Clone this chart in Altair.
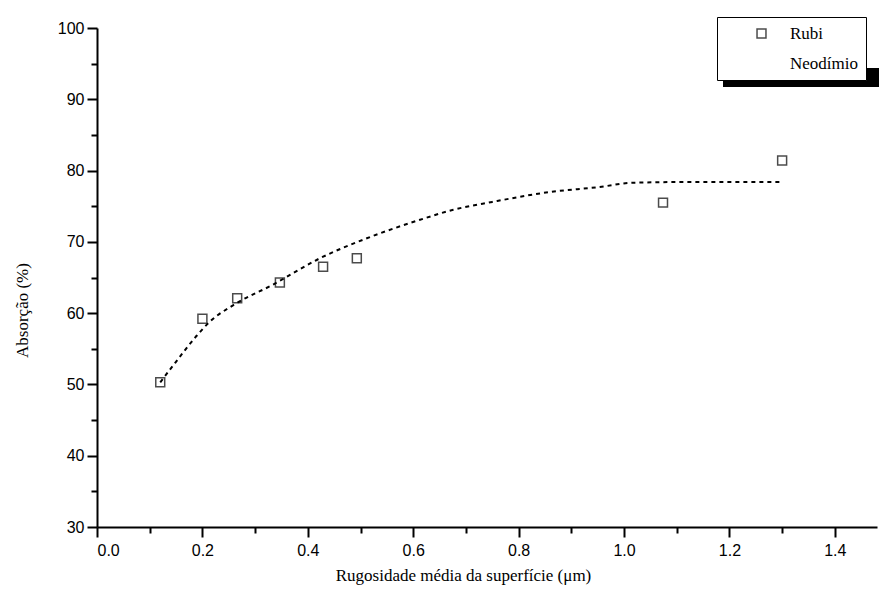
import altair as alt
import pandas as pd

# Rubi measurements (squares)
rubi_x = [0.12, 0.20, 0.266, 0.347, 0.429, 0.493, 1.074, 1.30]
rubi_y = [50.3, 59.2, 62.1, 64.3, 66.5, 67.7, 75.5, 81.4]

# fitted curve
fit_x = [0.12, 0.148, 0.19, 0.214, 0.258, 0.334, 0.423, 0.512, 0.613, 0.676,
         0.75, 0.86, 0.954, 1.017, 1.125, 1.21, 1.30]
fit_y = [50.3, 53.0, 56.9, 58.8, 61.1, 64.0, 67.7, 70.5, 73.1, 74.5,
         75.6, 77.0, 77.7, 78.3, 78.4, 78.4, 78.4]

series = ["Rubi", "Neodímio"]
x_ticks = [0.0, 0.1, 0.2, 0.3, 0.4, 0.5, 0.6, 0.7, 0.8, 0.9, 1.0, 1.1, 1.2, 1.3, 1.4]
y_ticks = [30, 35, 40, 45, 50, 55, 60, 65, 70, 75, 80, 85, 90, 95, 100]

df_r = pd.DataFrame({"x": rubi_x, "y": rubi_y, "serie": ["Rubi"] * len(rubi_x)})
df_f = pd.DataFrame({"x": fit_x, "y": fit_y})

xscale = alt.Scale(domain=[0, 1.48], nice=False, zero=False)
yscale = alt.Scale(domain=[30, 100], nice=False, zero=False)

TICKF = "Liberation Sans"
TITLEF = "Liberation Serif"

x_major_test = "round(datum.value*10) % 2 == 0"
y_major_test = "round(datum.value) % 10 == 0"

x_axis = alt.Axis(values=x_ticks, title="Rugosidade média da superfície (μm)",
                  labelExpr="round(datum.value*10) % 2 == 0 ? format(datum.value, '.1f') : ''",
                  titleFont=TITLEF, titleFontSize=17, titleFontWeight="normal",
                  titleColor="black", titleX=366, titleY=48, titleBaseline="middle",
                  labelFont=TICKF, labelFontSize=16, labelColor="black", labelPadding=5,
                  tickSize={"condition": {"test": x_major_test, "value": 10}, "value": 6},
                  tickWidth=2, tickColor="black", domainColor="black",
                  domainWidth=2, grid=False, orient="bottom", labelOverlap=False)
y_axis = alt.Axis(values=y_ticks, title="Absorção (%)",
                  labelExpr="round(datum.value) % 10 == 0 ? format(datum.value, 'd') : ''",
                  titleFont=TITLEF, titleFontSize=17, titleFontWeight="normal",
                  titleColor="black", titleAngle=270, titleX=-75, titleY=282,
                  titleAlign="center", titleBaseline="middle",
                  labelFont=TICKF, labelFontSize=16, labelColor="black", labelPadding=3,
                  tickSize={"condition": {"test": y_major_test, "value": 10}, "value": 6},
                  tickWidth=2, tickColor="black", domainColor="black",
                  domainWidth=2, grid=False, orient="left", labelOverlap=False)

legend = alt.Legend(title=None, orient="none", legendX=620, legendY=-11,
                    strokeColor="black", fillColor="white", padding=8,
                    labelFont=TITLEF, labelFontSize=17, labelColor="black",
                    symbolSize=80, symbolStrokeWidth=1.5, symbolOffset=28,
                    labelOffset=20, rowPadding=12)

shadow = alt.Chart(pd.DataFrame({"a": [0]})).mark_rect(color="black").encode(
    x=alt.value(626), x2=alt.value(790), y=alt.value(40), y2=alt.value(59)
)

line = alt.Chart(df_f).mark_line(color="black", strokeWidth=2, strokeDash=[4, 4],
                                 interpolate="monotone").encode(
    x=alt.X("x:Q", scale=xscale, axis=x_axis),
    y=alt.Y("y:Q", scale=yscale, axis=y_axis),
)

points = alt.Chart(df_r).mark_point(filled=False, size=80, strokeWidth=1.5).encode(
    x=alt.X("x:Q", scale=xscale, axis=x_axis),
    y=alt.Y("y:Q", scale=yscale, axis=y_axis),
    shape=alt.Shape("serie:N", scale=alt.Scale(domain=series, range=["square", "square"]),
                    legend=legend),
    stroke=alt.Stroke("serie:N", scale=alt.Scale(domain=series, range=["black", "transparent"]),
                      legend=legend),
)

chart = alt.layer(line, points, shadow).properties(
    width=780, height=499,
    autosize=alt.AutoSizeParams(type="none"),
    padding={"left": 97, "top": 28, "right": 2, "bottom": 74},
    background="white",
).configure_view(stroke=None)

chart.save("out.html", embed_options={"renderer": "svg", "actions": False})
